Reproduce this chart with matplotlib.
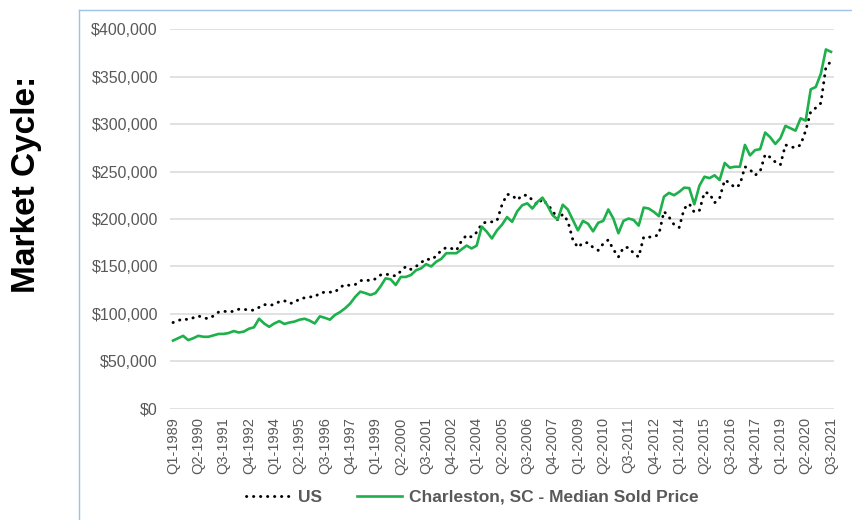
import matplotlib
matplotlib.use("Agg")
import matplotlib.pyplot as plt
from matplotlib.lines import Line2D
from matplotlib.ticker import FuncFormatter
import numpy as np

plt.rcParams['font.family'] = ['Liberation Sans', 'DejaVu Sans']

# quarters Q1-1989 .. Q3-2021
quarters = [f"Q{q}-{y}" for y in range(1989, 2022) for q in range(1, 5)][:131]

# median price, thousands of dollars
us = [91, 93, 95, 94, 96, 98, 96, 95, 98, 102,
      103, 102, 103, 105, 105, 104, 104, 107, 110, 109,
      110, 113, 114, 111, 112, 116, 117, 118, 118, 122,
      123, 123, 123, 128, 131, 130, 131, 135, 136, 135,
      137, 141, 142, 141, 140, 145, 150, 147, 150, 154,
      158, 157, 161, 167, 170, 169, 167, 177, 183, 181,
      186, 195, 197, 197, 198, 215, 226, 225, 220, 225,
      225, 220, 215, 221, 215, 209, 199, 205, 198, 178,
      170, 175, 175, 170, 167, 174, 178, 168, 160, 170,
      170, 164, 160, 181, 181, 181, 184, 208, 202, 194,
      191, 211, 216, 207, 209, 228, 227, 217, 222, 241,
      238, 233, 236, 255, 252, 246, 250, 268, 265, 260,
      257, 278, 276, 275, 278, 293, 313, 317, 322, 360,
      366]

charleston = [72, 74.5, 77, 72.5, 74.5, 77, 76, 76, 77.5, 79,
              79, 80, 82, 80.5, 81.5, 84.5, 86, 95, 90, 86.5,
              90, 92.5, 89.5, 91, 92, 94, 95, 93, 90, 97.5,
              96, 94, 99, 102, 106, 111, 118, 123.5, 122, 120,
              122, 129, 137.5, 136.5, 130.5, 139, 139, 141, 146, 148,
              152.5, 150, 155, 158, 164, 164, 164, 168, 172, 169,
              172, 192, 186.5, 179.5, 188, 194, 202, 197, 208, 214.5,
              216.5, 211, 218, 222.5, 214, 204, 199.5, 215, 210, 199,
              188, 198, 195, 187, 196, 198, 210, 200.5, 185, 198,
              200.5, 199, 193, 212, 211, 207.5, 203, 223.5, 227.5, 225,
              228.5, 233, 232.5, 215.5, 235, 244.5, 243, 246, 241, 259,
              254, 255, 255, 278, 267, 272.5, 273.5, 291, 286, 279,
              285, 298, 295.5, 293, 306, 303.5, 336.5, 339, 353, 378.5,
              376]

x = np.arange(len(quarters))
us_vals = np.array(us) * 1000
chs_vals = np.array(charleston) * 1000

fig = plt.figure(figsize=(8.52, 5.2), dpi=100)
ax = fig.add_axes([0.2001, 0.2135, 0.7782, 0.7307])

ax.plot(x, us_vals, color='black', lw=2.1, linestyle=(0, (0.1, 2.3)),
        dash_capstyle='round', label='US')
ax.plot(x, chs_vals, color='#1db04b', lw=1.9, label='Charleston, SC - Median Sold Price')

ax.set_xlim(-0.5, len(quarters) - 0.5)
ax.set_ylim(0, 400000)
ax.set_yticks(np.arange(0, 400001, 50000))
ax.yaxis.set_major_formatter(FuncFormatter(lambda v, p: f"${v:,.0f}"))
ax.set_xticks(x[::5])
ax.set_xticklabels(quarters[::5], rotation=90)
ax.grid(axis='y', color='#d9d9d9', lw=1.1)
ax.set_axisbelow(True)
for s in ax.spines.values():
    s.set_visible(False)
ax.tick_params(axis='y', length=0, pad=9, labelsize=11.5, labelcolor='#595959')
ax.tick_params(axis='x', length=0, pad=6, labelsize=10.5, labelcolor='#595959')

fig.legend(loc='center', bbox_to_anchor=(0.554, 0.044), ncol=2, frameon=False,
           handlelength=2.6, handletextpad=0.4, columnspacing=2.0,
           prop={'size': 12.5, 'weight': 'bold'}, labelcolor='#595959')

fig.text(0.031, 0.645, 'Market Cycle:', rotation=90, ha='center', va='center',
         fontsize=24, fontweight='bold', color='black')

# thin frame of the pasted chart
fig.add_artist(Line2D([79 / 852, 79 / 852], [0, 1 - 10 / 520], color='#9dc3e6', lw=1))
fig.add_artist(Line2D([79 / 852, 1], [1 - 10 / 520, 1 - 10 / 520], color='#9dc3e6', lw=1))

fig.savefig('out.png', dpi=100)
